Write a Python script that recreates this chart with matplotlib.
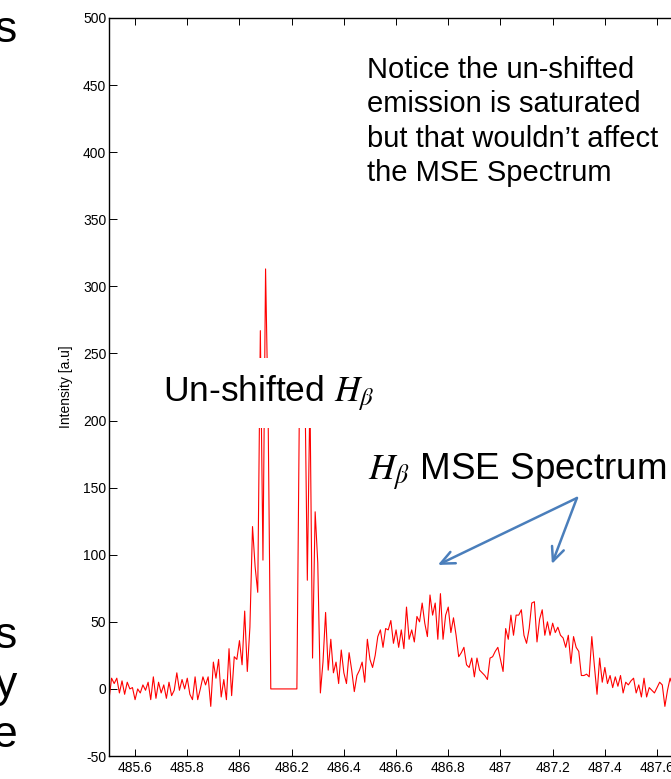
import numpy as np
import matplotlib
matplotlib.use('Agg')
import matplotlib.pyplot as plt

plt.rcParams['font.family'] = ['Liberation Sans', 'DejaVu Sans']
plt.rcParams['mathtext.fontset'] = 'stix'
plt.rcParams['axes.unicode_minus'] = False

# spectrum, one value per 0.01 nm starting at 485.50 nm
wl_start = 485.50
wl_step = 0.01
intensity = [
    -8, 8, 4, 8, -3, 6, -4, 5, 0, 1,
    -8, 0, -3, 3, -1, 5, -8, 9, -7, 5,
    -3, 3, -7, 5, -5, -1, 12, -1, 7, 0,
    8, -4, -8, 9, -8, 0, 9, 3, 9, -13,
    20, 8, 22, -6, 7, -8, 30, -5, 24, 22,
    36, 18, 58, 13, 46, 121, 91, 72, 267, 96,
    313, 200, 0, 0, 0, 0, 0, 0, 0, 0,
    0, 0, 0, 220, 200, 240, 81, 220, 23, 132,
    94, -3, 20, 57, 14, 37, 12, 20, 4, 29,
    12, 4, 27, 14, -2, 10, 14, 20, 5, 37,
    22, 16, 25, 39, 44, 31, 45, 44, 51, 34,
    44, 31, 44, 30, 61, 37, 44, 35, 54, 50,
    64, 49, 39, 70, 55, 64, 37, 71, 37, 55,
    61, 42, 53, 40, 24, 27, 31, 18, 16, 23,
    9, 23, 14, 12, 10, 7, 23, 24, 28, 31,
    22, 13, 45, 37, 55, 40, 55, 55, 59, 40,
    34, 45, 64, 65, 35, 52, 59, 40, 50, 40,
    49, 42, 46, 40, 38, 31, 40, 19, 39, 31,
    28, 10, 10, 11, 9, 39, 17, -4, 23, 5,
    16, 4, 10, 1, 9, 2, 10, -3, 5, 3,
    6, 8, -3, 3, -6, 8, -6, 1, -1, -3,
    1, 5, 3, -13, -1, 8, 2, 5, -3, 6,
    0, -4, 7, 2, -2, 4,
]
wavelength = wl_start + wl_step * np.arange(len(intensity))

x_ticks = [485.6, 485.8, 486.0, 486.2, 486.4, 486.6, 486.8, 487.0, 487.2, 487.4, 487.6, 487.8]
x_labels = ['485.6', '485.8', '486', '486.2', '486.4', '486.6', '486.8', '487', '487.2', '487.4', '487.6', '487.8']
y_ticks = [-50, 0, 50, 100, 150, 200, 250, 300, 350, 400, 450, 500]

fig = plt.figure(figsize=(6.71, 7.79), dpi=100)
# axes runs past the right edge, the slide crop cuts it off
ax = fig.add_axes([0.1624, 0.0295, 0.9724, 0.9474])

ax.plot(wavelength, intensity, color='red', lw=0.8)

ax.set_xlim(485.5, 488.0)
ax.set_ylim(-50, 500)
ax.set_xticks(x_ticks)
ax.set_xticklabels(x_labels)
ax.set_yticks(y_ticks)
ax.tick_params(direction='in', top=True, right=True, labelsize=10, width=0.7)
ax.tick_params(axis='x', length=5, pad=3.5)
ax.tick_params(axis='y', length=6, pad=2)
for s in ax.spines.values():
    s.set_linewidth(1.0)
ax.set_ylabel('Intensity [a.u]', fontsize=10, labelpad=7)

# annotations from the slide
ax.text(486.488, 472, 'Notice the un-shifted\nemission is saturated\nbut that wouldn\u2019t affect\nthe MSE Spectrum',
        fontsize=21, ha='left', va='top', linespacing=1.3)
ax.text(485.707, 214.6, r'Un-shifted $H_\beta$', fontsize=25.5, ha='left', va='baseline',
        bbox=dict(fc='white', ec='none', boxstyle='square,pad=0.42'), zorder=5)
ax.text(486.492, 155.7, r'$H_\beta$ MSE Spectrum', fontsize=26.5, ha='left', va='baseline')

arrow_color = '#4a7ebb'
for tip in [(486.76, 92.4), (487.197, 93.1)]:
    ax.annotate('', xy=tip, xytext=(487.293, 142.3),
                arrowprops=dict(arrowstyle='->,head_length=1.0,head_width=0.45',
                                color=arrow_color, lw=1.8, shrinkA=0, shrinkB=0))

# pieces of the slide text left of the chart
for txt, y in [('s', 42), ('s', 648), ('y', 697), ('e', 747)]:
    fig.text(17 / 671, 1 - y / 779, txt, fontsize=32, ha='right', va='baseline')

fig.savefig('out.png', dpi=100)
